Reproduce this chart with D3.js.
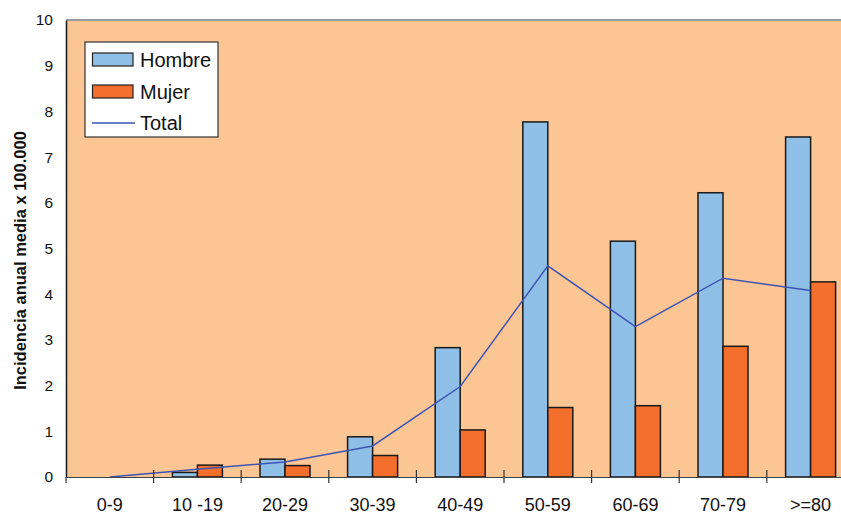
<!DOCTYPE html>
<html>
<head>
<meta charset="utf-8">
<script src="https://cdn.jsdelivr.net/npm/d3@7"></script>
<style>
  html, body { margin: 0; padding: 0; background: #fff; }
  svg { display: block; font-family: "Liberation Sans", Arial, sans-serif; }
</style>
</head>
<body>
<svg id="chart" width="841" height="515"></svg>
<script>
const categories = ["0-9", "10 -19", "20-29", "30-39", "40-49", "50-59", "60-69", "70-79", ">=80"];
const hombre = [0, 0.10, 0.39, 0.88, 2.83, 7.77, 5.16, 6.22, 7.44];
const mujer  = [0, 0.26, 0.25, 0.47, 1.03, 1.52, 1.56, 2.86, 4.27];
const total  = [0, 0.17, 0.33, 0.68, 1.98, 4.62, 3.29, 4.35, 4.08];
const yTicks = [0, 1, 2, 3, 4, 5, 6, 7, 8, 9, 10];
const seriesNames = ["Hombre", "Mujer", "Total"];

const svg = d3.select("#chart");
const pLeft = 66, pTop = 20, pBottom = 477;
const bandW = 87.6;
const pRight = pLeft + bandW * categories.length;

const x = d3.scaleBand().domain(categories).range([pLeft, pRight]).padding(0);
const x1 = d3.scaleBand().domain(["Hombre", "Mujer"])
  .range([bandW / 2 - 25, bandW / 2 + 25]).padding(0);
const y = d3.scaleLinear().domain([0, 10]).range([pBottom, pTop]);

const colors = { Hombre: "#8fbfe6", Mujer: "#f36f2b", Total: "#3e55b4" };

// plot background
svg.append("rect").attr("x", pLeft).attr("y", pTop)
  .attr("width", pRight - pLeft).attr("height", pBottom - pTop)
  .attr("fill", "#fcc594");
// top border
svg.append("line").attr("x1", pLeft).attr("x2", pRight)
  .attr("y1", pTop).attr("y2", pTop)
  .attr("stroke", "#9a9a9a").attr("stroke-width", 2);

// bars
const data = categories.map((c, i) => ({ c, Hombre: hombre[i], Mujer: mujer[i], Total: total[i] }));
const groups = svg.append("g").selectAll("g").data(data).join("g")
  .attr("transform", d => `translate(${x(d.c)},0)`);
groups.selectAll("rect")
  .data(d => ["Hombre", "Mujer"].map(k => ({ k, v: d[k] })).filter(e => e.v > 0))
  .join("rect")
  .attr("x", e => x1(e.k))
  .attr("y", e => y(e.v))
  .attr("width", x1.bandwidth())
  .attr("height", e => y(0) - y(e.v))
  .attr("fill", e => colors[e.k])
  .attr("stroke", "#1a1a1a")
  .attr("stroke-width", 1.5);

// total line
const line = d3.line()
  .x(d => x(d.c) + x.bandwidth() / 2)
  .y(d => y(d.Total));
svg.append("path").datum(data)
  .attr("d", line)
  .attr("fill", "none")
  .attr("stroke", colors.Total)
  .attr("stroke-width", 1.5);

// y axis
const yAxis = d3.axisLeft(y).tickValues(yTicks).tickSize(0).tickPadding(13)
  .tickFormat(d3.format("d"));
const gy = svg.append("g").attr("transform", `translate(${pLeft},0)`).call(yAxis);
gy.select(".domain").attr("stroke", "#1a1a1a").attr("stroke-width", 1.5);
gy.selectAll("text").attr("font-size", 15.5).attr("fill", "#111")
  .attr("font-family", "'Liberation Sans', Arial, sans-serif");

// x axis
const xAxis = d3.axisBottom(x).tickSize(0).tickPadding(21);
const gx = svg.append("g").attr("transform", `translate(0,${pBottom})`).call(xAxis);
gx.select(".domain").attr("stroke", "#444").attr("stroke-width", 1.2);
gx.selectAll("text").attr("font-size", 18).attr("fill", "#111")
  .attr("font-family", "'Liberation Sans', Arial, sans-serif");
// category boundary ticks
gx.append("g").selectAll("line").data(categories).join("line")
  .attr("x1", d => x(d)).attr("x2", d => x(d))
  .attr("y1", (d, i) => i === 0 ? 0 : -7).attr("y2", 6)
  .attr("stroke", "#333").attr("stroke-width", 1.2);

// y axis title
svg.append("text")
  .attr("transform", `translate(25.5,260.5) rotate(-90)`)
  .attr("text-anchor", "middle")
  .attr("font-size", 16.5).attr("font-weight", "bold").attr("fill", "#111")
  .text("Incidencia anual media x 100.000");

// legend
const lg = svg.append("g");
lg.append("rect").attr("x", 85).attr("y", 42).attr("width", 133).attr("height", 95)
  .attr("fill", "#fff").attr("stroke", "#333").attr("stroke-width", 1.2);
const rows = [59.5, 91.5, 123];
seriesNames.forEach((name, i) => {
  if (name === "Total") {
    lg.append("line").attr("x1", 92).attr("x2", 135)
      .attr("y1", rows[i]).attr("y2", rows[i])
      .attr("stroke", colors.Total).attr("stroke-width", 1.5);
  } else {
    lg.append("rect").attr("x", 92.5).attr("y", rows[i] - 6.5)
      .attr("width", 40.5).attr("height", 13)
      .attr("fill", colors[name]).attr("stroke", "#222").attr("stroke-width", 1.2);
  }
  lg.append("text").attr("x", 140).attr("y", rows[i] + 7)
    .attr("font-size", 20).attr("fill", "#111").text(name);
});
</script>
</body>
</html>
